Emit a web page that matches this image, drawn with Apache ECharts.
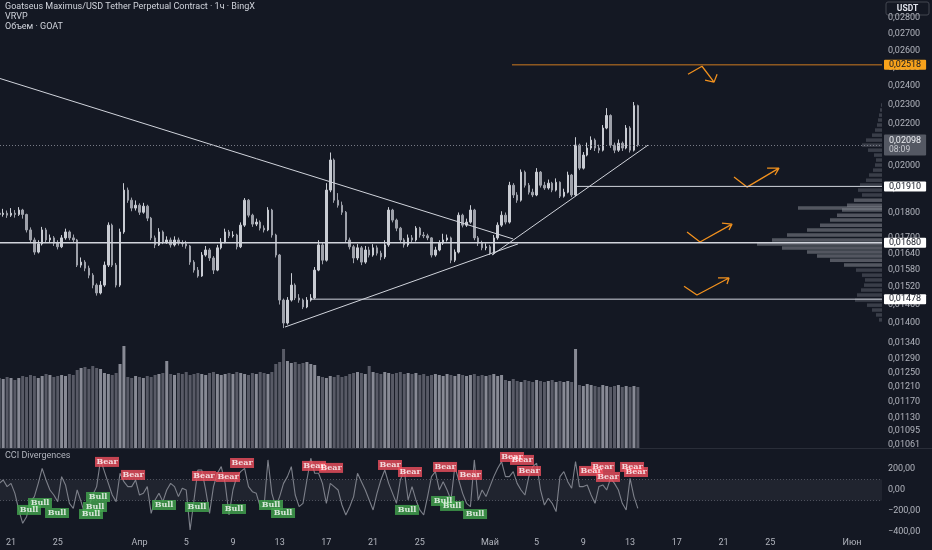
<!DOCTYPE html>
<html><head><meta charset="utf-8">
<script src="https://cdn.jsdelivr.net/npm/echarts@6/dist/echarts.min.js"></script>
<style>html,body{margin:0;padding:0;background:#141823;}#c{width:932px;height:550px;}</style>
</head><body><div id="c"></div>
<script>
// ---------- DATA ----------
const seriesStart = '2025-03-20T00:00Z';   // first candle, 8-hour candles
const stepHours = 8;
const opens = [
0.01797,0.01792,0.01797,0.01789,0.01797,0.01792,0.01810,0.01792,0.01730,0.01691,
0.01645,0.01676,0.01730,0.01691,0.01699,0.01679,0.01665,0.01699,0.01722,0.01699,
0.01691,0.01597,0.01608,0.01586,0.01561,0.01526,0.01499,0.01526,0.01597,0.01749,
0.01597,0.01526,0.01722,0.01894,0.01851,0.01818,0.01830,0.01801,0.01826,0.01777,
0.01699,0.01672,0.01722,0.01683,0.01691,0.01672,0.01691,0.01679,0.01676,0.01668,
0.01608,0.01579,0.01558,0.01634,0.01653,0.01623,0.01579,0.01661,0.01683,0.01722,
0.01707,0.01710,0.01665,0.01749,0.01851,0.01789,0.01753,0.01761,0.01737,0.01730,
0.01810,0.01710,0.01634,0.01475,0.01400,0.01475,0.01526,0.01482,0.01475,0.01452,
0.01475,0.01482,0.01579,0.01672,0.01615,0.01894,0.02028,0.01851,0.01830,0.01801,
0.01691,0.01665,0.01623,0.01661,0.01608,0.01653,0.01634,0.01661,0.01641,0.01627,
0.01672,0.01810,0.01769,0.01737,0.01691,0.01672,0.01699,0.01691,0.01737,0.01710,
0.01707,0.01699,0.01634,0.01653,0.01679,0.01691,0.01699,0.01615,0.01645,0.01789,
0.01749,0.01761,0.01810,0.01699,0.01679,0.01661,0.01665,0.01641,0.01699,0.01749,
0.01789,0.01761,0.01915,0.01873,0.01851,0.01973,0.01915,0.01885,0.01873,0.01973,
0.01915,0.01903,0.01924,0.01894,0.01928,0.01868,0.01885,0.01960,0.01873,0.02098,
0.01991,0.02051,0.02084,0.02122,0.02084,0.02074,0.02181,0.02244,0.02098,0.02074,
0.02107,0.02084,0.02181,0.02074,0.02295
];
const closes = [
0.01792,0.01797,0.01789,0.01797,0.01792,0.01810,0.01792,0.01730,0.01691,0.01645,
0.01676,0.01730,0.01691,0.01699,0.01679,0.01665,0.01699,0.01722,0.01699,0.01691,
0.01597,0.01608,0.01586,0.01561,0.01526,0.01499,0.01526,0.01597,0.01749,0.01597,
0.01526,0.01722,0.01894,0.01851,0.01818,0.01830,0.01801,0.01826,0.01777,0.01699,
0.01672,0.01722,0.01683,0.01691,0.01672,0.01691,0.01679,0.01676,0.01668,0.01608,
0.01579,0.01558,0.01634,0.01653,0.01623,0.01579,0.01661,0.01683,0.01722,0.01707,
0.01710,0.01665,0.01749,0.01851,0.01789,0.01753,0.01761,0.01737,0.01730,0.01810,
0.01710,0.01634,0.01475,0.01400,0.01475,0.01526,0.01482,0.01475,0.01452,0.01475,
0.01482,0.01579,0.01672,0.01615,0.01894,0.02028,0.01851,0.01830,0.01801,0.01691,
0.01665,0.01623,0.01661,0.01608,0.01653,0.01634,0.01661,0.01641,0.01627,0.01672,
0.01810,0.01769,0.01737,0.01691,0.01672,0.01699,0.01691,0.01737,0.01710,0.01707,
0.01699,0.01634,0.01653,0.01679,0.01691,0.01699,0.01615,0.01645,0.01789,0.01749,
0.01761,0.01810,0.01699,0.01679,0.01661,0.01665,0.01641,0.01699,0.01749,0.01789,
0.01761,0.01915,0.01873,0.01851,0.01973,0.01915,0.01885,0.01873,0.01973,0.01915,
0.01903,0.01924,0.01894,0.01928,0.01868,0.01885,0.01960,0.01873,0.02098,0.01991,
0.02051,0.02084,0.02122,0.02084,0.02074,0.02181,0.02244,0.02098,0.02074,0.02107,
0.02084,0.02181,0.02074,0.02295,0.02098
];
const highs = [
0.01812,0.01815,0.01808,0.01818,0.01810,0.01822,0.01815,0.01795,0.01740,0.01700,
0.01690,0.01742,0.01738,0.01712,0.01706,0.01690,0.01710,0.01735,0.01728,0.01712,
0.01695,0.01625,0.01615,0.01595,0.01568,0.01532,0.01540,0.01610,0.01760,0.01755,
0.01605,0.01735,0.01924,0.01905,0.01862,0.01850,0.01838,0.01840,0.01832,0.01782,
0.01708,0.01737,0.01728,0.01705,0.01700,0.01705,0.01700,0.01690,0.01688,0.01672,
0.01615,0.01590,0.01645,0.01668,0.01660,0.01630,0.01672,0.01698,0.01735,0.01730,
0.01725,0.01715,0.01760,0.01860,0.01856,0.01795,0.01775,0.01768,0.01748,0.01822,
0.01815,0.01715,0.01638,0.01480,0.01485,0.01568,0.01532,0.01495,0.01480,0.01485,
0.01495,0.01590,0.01690,0.01680,0.01924,0.02063,0.02035,0.01881,0.01845,0.01806,
0.01700,0.01672,0.01675,0.01668,0.01668,0.01665,0.01675,0.01670,0.01650,0.01690,
0.01822,0.01815,0.01775,0.01742,0.01698,0.01712,0.01710,0.01745,0.01742,0.01722,
0.01715,0.01702,0.01665,0.01690,0.01715,0.01712,0.01704,0.01655,0.01800,0.01795,
0.01775,0.01830,0.01815,0.01706,0.01688,0.01678,0.01672,0.01710,0.01760,0.01805,
0.01800,0.01930,0.01924,0.01885,0.01985,0.01980,0.01925,0.01900,0.01991,0.01978,
0.01930,0.01940,0.01930,0.01945,0.01932,0.01900,0.01975,0.01965,0.02136,0.02105,
0.02065,0.02110,0.02140,0.02130,0.02100,0.02196,0.02282,0.02250,0.02110,0.02125,
0.02115,0.02196,0.02190,0.02314,0.02300
];
const lows = [
0.01780,0.01783,0.01778,0.01782,0.01779,0.01786,0.01775,0.01720,0.01680,0.01635,
0.01640,0.01670,0.01683,0.01680,0.01668,0.01655,0.01660,0.01692,0.01690,0.01680,
0.01590,0.01588,0.01575,0.01550,0.01515,0.01490,0.01494,0.01520,0.01590,0.01590,
0.01518,0.01520,0.01715,0.01840,0.01805,0.01808,0.01790,0.01795,0.01765,0.01690,
0.01660,0.01668,0.01675,0.01676,0.01662,0.01666,0.01670,0.01665,0.01658,0.01598,
0.01570,0.01552,0.01555,0.01628,0.01612,0.01565,0.01575,0.01655,0.01678,0.01698,
0.01700,0.01655,0.01660,0.01742,0.01780,0.01742,0.01745,0.01728,0.01720,0.01725,
0.01700,0.01625,0.01460,0.01384,0.01395,0.01470,0.01475,0.01466,0.01445,0.01448,
0.01470,0.01478,0.01575,0.01600,0.01610,0.01885,0.01840,0.01820,0.01790,0.01683,
0.01655,0.01604,0.01615,0.01597,0.01602,0.01625,0.01628,0.01632,0.01615,0.01620,
0.01665,0.01760,0.01725,0.01680,0.01662,0.01665,0.01680,0.01685,0.01700,0.01698,
0.01690,0.01625,0.01628,0.01648,0.01672,0.01685,0.01604,0.01608,0.01640,0.01740,
0.01742,0.01755,0.01690,0.01668,0.01652,0.01652,0.01634,0.01636,0.01692,0.01742,
0.01752,0.01755,0.01860,0.01840,0.01845,0.01905,0.01875,0.01864,0.01868,0.01905,
0.01895,0.01896,0.01885,0.01888,0.01860,0.01862,0.01880,0.01864,0.01868,0.01982,
0.01985,0.02045,0.02075,0.02070,0.02060,0.02068,0.02175,0.02085,0.02060,0.02066,
0.02070,0.02078,0.02063,0.02068,0.02090
];
const volumes = [
70,69,71,70,68,70,
72,71,73,72,70,72,74,73,71,72,73,72,74,73,
78,80,81,79,82,80,79,
75,74,73,75,
84,102,
71,70,72,71,70,72,71,
73,74,75,87,74,73,75,74,76,73,74,75,74,73,75,76,74,73,74,75,74,76,75,74,73,75,74,76,75,74,76,
84,86,99,87,85,86,84,85,86,84,83,
72,71,70,72,71,73,71,72,
74,75,76,75,74,82,76,75,74,76,75,74,75,76,74,75,74,75,
73,74,72,73,74,73,72,74,73,72,74,73,72,73,74,72,73,72,73,74,72,73,
68,67,69,67,66,68,67,66,68,67,66,67,68,66,67,66,67,66,
99,
63,62,64,63,62,61,63,62,61,62,63,61,62,61,62,61
];
const cci = [
63,95,32,63,-32,-190,-317,-254,-111,-63,
63,206,95,0,-48,-111,127,48,-127,-175,
0,-111,-238,-159,-48,32,286,175,63,-48,
-111,159,79,32,32,95,-48,-32,32,-222,
-95,-32,-111,0,63,32,-63,16,0,-381,
-95,190,190,0,-222,32,159,222,63,-238,
0,127,175,206,32,-16,-32,-159,-159,286,
-32,-159,-63,63,127,222,-48,-159,-127,95,
302,159,159,63,-127,63,32,0,-143,-238,
-159,-63,159,79,0,-95,-190,-32,95,190,
63,-32,-127,95,190,-95,32,-95,-190,-238,
-63,127,175,0,79,0,-95,222,95,-32,
-127,-159,286,-95,0,-63,32,127,206,270,
127,127,175,63,0,-48,127,222,254,0,
-143,-79,-127,-206,127,175,79,16,270,32,
32,48,-48,-127,32,48,0,111,63,0,
-127,-190,111,-63,-175
];
// volume profile (price bin, volume)
const vpPrices = [0.02298,0.02272,0.02246,0.02221,0.02196,0.02171,0.02146,0.02122,0.02098,0.02074,
0.02051,0.02028,0.02005,0.01982,0.01960,0.01937,0.01916,0.01894,0.01873,0.01851,
0.01830,0.01818,0.01810,0.01789,0.01769,0.01749,0.01730,0.01710,0.01691,0.01676,
0.01660,0.01645,0.01630,0.01615,0.01597,0.01579,0.01561,0.01544,0.01526,0.01509,
0.01492,0.01475,0.01458,0.01442,0.01426,0.01410];
const vpVolumes = [1,2,3,4,5,7,10,16,20,14,
8,6,7,9,13,16,22,24,20,28,
35,84,40,45,52,62,75,95,110,125,
100,75,65,52,38,26,20,17,18,21,
25,27,15,10,6,3];
// price axis ticks
const priceTicks = [0.028,0.027,0.026,0.025,0.024,0.023,0.022,0.021,0.020,0.019,0.018,0.017,0.0164,0.0158,0.0152,0.0146,0.014,0.0134,0.0129,0.0125,0.0121,0.0117,0.0113,0.01095,0.01061];
const cciTicks = [200,0,-200,-400];
const dateTicks = ['2025-03-21','2025-03-25','2025-04-01','2025-04-05','2025-04-09','2025-04-13','2025-04-17','2025-04-21','2025-04-25','2025-05-01','2025-05-05','2025-05-09','2025-05-13','2025-05-17','2025-05-21','2025-05-25','2025-06-01'];
const monthNames = ['Янв','Фев','Мар','Апр','Май','Июн','Июл','Авг','Сен','Окт','Ноя','Дек'];
// horizontal levels: price, start (days after Mar 21)
const levelPrices = [0.02518, 0.01910, 0.01680, 0.01478];
const levelStartDays = [42.89, 48.29, -1, 25.6];
const currentPrice = 0.02098;
const countdown = '08:09';
// trend lines: [dayOffset, price] pairs
const trendLines = [
  [[-0.94, 0.02441], [42.98, 0.01695]],
  [[23.46, 0.013874], [43.41, 0.01676]],
  [[41.18, 0.01634], [54.54, 0.02098]]
];
// orange arrows: path and arrowhead [dayOffset, price]
const arrows = [
  {path: [[57.96,0.02465],[59.16,0.02510],[60.19,0.02421]], head: [[59.42,0.02432],[60.19,0.02421],[60.45,0.02465]]},
  {path: [[61.90,0.01951],[63.01,0.01907],[65.75,0.01991]], head: [[64.73,0.01991],[65.75,0.01991],[65.41,0.01960]]},
  {path: [[57.88,0.01722],[58.99,0.01683],[61.73,0.01753]], head: [[60.87,0.01757],[61.73,0.01753],[61.47,0.01730]]},
  {path: [[57.62,0.01522],[58.73,0.01492],[61.47,0.01551]], head: [[60.53,0.01551],[61.47,0.01551],[61.30,0.01530]]}
];
// CCI divergence labels: [dayOffset, cciValue]
const bullLabels = [[1.54,-190],[2.48,-124],[3.94,-219],[7.45,-67],[7.19,-162],[6.85,-229],[13.10,-143],[15.92,-162],[19.09,-181],[22.26,-143],[23.29,-219],[33.90,-190],[36.99,-105],[37.76,-152],[39.73,-229]];
const bearLabels = [[8.22,267],[10.45,143],[16.52,133],[18.58,124],[19.78,257],[25.94,229],[27.40,210],[32.45,238],[34.16,171],[37.16,219],[39.30,143],[42.89,314],[43.75,286],[44.35,181],[49.66,181],[50.68,219],[51.11,124],[53.17,219],[53.51,171]];

// ---------- BUILD ----------
const DAY = 86400000;
const T0 = Date.parse('2025-03-21T00:00Z');
const tStart = Date.parse(seriesStart);
const day = d => T0 + d * DAY;
const xMin = day(-0.942), xMax = day(74.57);
const yMinP = 0.010537, yMaxP = 0.02918;
const L = Math.log;
const times = closes.map((c, i) => tStart + i * stepHours * 3600000);
const fmtP = v => v.toFixed(5).replace('.', ',');
const FONT = 'Roboto';
const txt = '#b2b5be';

const candleData = closes.map((c, i) => [times[i], L(opens[i]), L(c), L(lows[i]), L(highs[i])]);
const volData = volumes.map((v, i) => ({
  value: [times[i], v],
  itemStyle: {color: closes[i] >= opens[i] ? 'rgba(165,168,178,0.8)' : 'rgba(105,108,119,0.8)'}
}));
const cciData = cci.map((v, i) => [times[i], v]);

const lvlColors = [
  {line: 'rgba(240,140,30,0.85)', bg: '#f7a21b', fg: '#131722', w: 1},
  {line: '#d1d4dc', bg: '#ffffff', fg: '#131722', w: 1},
  {line: '#d1d4dc', bg: '#ffffff', fg: '#131722', w: 1.5},
  {line: '#d1d4dc', bg: '#ffffff', fg: '#131722', w: 1}
];

const series = [];
// volume bars
series.push({type: 'bar', xAxisIndex: 1, yAxisIndex: 1, data: volData, barWidth: 3, z: 1, silent: true});
// volume profile
series.push({type: 'custom', xAxisIndex: 2, yAxisIndex: 2, silent: true, z: 1,
  data: vpPrices.map((p, i) => [vpVolumes[i], L(p), p]),
  renderItem: (params, api) => {
    const a = api.coord([0, api.value(1)]);
    const b = api.coord([api.value(0), api.value(1)]);
    const p = api.value(2);
    const inVA = p >= 0.0159 && p <= 0.0186;
    return {type: 'rect', shape: {x: b[0], y: a[1] - 1.75, width: a[0] - b[0], height: 3.5},
      style: {fill: inVA ? 'rgba(135,138,148,0.55)' : 'rgba(105,108,119,0.45)'}};
  }});
// price candles
series.push({type: 'candlestick', xAxisIndex: 0, yAxisIndex: 0, data: candleData, barWidth: 2, z: 3, silent: true,
  itemStyle: {color: '#c9ccd3', color0: '#9ea1aa', borderColor: '#c9ccd3', borderColor0: '#9ea1aa', borderWidth: 1}});
// horizontal levels: drawn as line series; the axis price tag comes from a transparent markLine
levelPrices.forEach((p, i) => {
  const tagStart = Math.max(day(levelStartDays[i]), xMin);
  series.push({type: 'line', xAxisIndex: 0, yAxisIndex: 0, symbol: 'none', silent: true, z: 8,
    data: [[day(levelStartDays[i]), L(p)], [xMax, L(p)]],
    lineStyle: {color: lvlColors[i].line, width: lvlColors[i].w},
    markLine: {symbol: ['none', 'none'], silent: true, animation: false,
      lineStyle: {color: 'rgba(0,0,0,0)', width: 0},
      label: {show: true, position: 'end', distance: 2, formatter: fmtP(p), backgroundColor: lvlColors[i].bg,
        color: lvlColors[i].fg, padding: [1, 5, 0, 5], fontSize: 9, fontFamily: FONT, borderRadius: 1},
      data: [[{coord: [tagStart, L(p)]}, {coord: [xMax, L(p)]}]]}});
});
// current price line
series.push({type: 'line', xAxisIndex: 0, yAxisIndex: 0, data: [], silent: true, z: 9,
  markLine: {symbol: ['none', 'none'], silent: true, animation: false,
    lineStyle: {color: '#787b86', width: 1, type: [1, 2]},
    label: {show: true, position: 'end', distance: 2, formatter: '{a|' + fmtP(currentPrice) + '}\n{b|' + countdown + '}',
      backgroundColor: '#545863', padding: [2, 5, 1, 5], borderRadius: 1,
      rich: {a: {color: '#eceef2', fontSize: 9, fontFamily: FONT, lineHeight: 9}, b: {color: '#c8cad0', fontSize: 8.5, fontFamily: FONT, lineHeight: 9}}},
    data: [[{coord: [xMin, L(currentPrice)]}, {coord: [xMax, L(currentPrice)]}]]}});
// trend lines
trendLines.forEach(tl => series.push({type: 'line', xAxisIndex: 0, yAxisIndex: 0, symbol: 'none', silent: true, z: 4,
  data: tl.map(pt => [day(pt[0]), L(pt[1])]), lineStyle: {color: '#d1d4dc', width: 1}}));
// arrows
arrows.forEach(a => series.push({type: 'line', xAxisIndex: 0, yAxisIndex: 0, symbol: 'none', silent: true, z: 4,
  data: a.path.map(pt => [day(pt[0]), L(pt[1])]).concat([null]).concat(a.head.map(pt => [day(pt[0]), L(pt[1])])),
  connectNulls: false, lineStyle: {color: '#f0901e', width: 1.3}}));
// CCI
series.push({type: 'line', xAxisIndex: 3, yAxisIndex: 3, data: cciData, symbol: 'none', silent: true, z: 3,
  lineStyle: {color: '#7d808a', width: 1.1},
  markArea: {silent: true, itemStyle: {color: 'rgba(255,255,255,0.055)'}, data: [[{yAxis: 100}, {yAxis: -100}]]},
  markLine: {symbol: ['none', 'none'], silent: true, label: {show: false},
    lineStyle: {color: 'rgba(140,143,153,0.45)', type: [1, 2], width: 1}, data: [{yAxis: 100}, {yAxis: -100}]}});
const labelSeries = (arr, name, col) => ({type: 'scatter', xAxisIndex: 3, yAxisIndex: 3, silent: true, z: 6,
  symbol: 'rect', symbolSize: [24, 10], itemStyle: {color: col},
  data: arr.map(p => [day(p[0]), p[1]]),
  label: {show: true, position: 'inside', formatter: name, color: '#ffffff', fontSize: 8, fontWeight: 'bold', fontFamily: 'DejaVu Serif'}});
series.push(labelSeries(bullLabels, 'Bull', '#43a84f'));
series.push(labelSeries(bearLabels, 'Bear', '#f0505e'));

const hidden = {show: false};
const option = {
  backgroundColor: '#141823',
  animation: false,
  grid: [
    {left: 0, right: 50, top: 0, height: 448},
    {left: 0, right: 50, top: 340, height: 108},
    {left: 0, right: 50, top: 0, height: 448},
    {left: 0, right: 50, top: 449, height: 83}
  ],
  xAxis: [
    {gridIndex: 0, type: 'value', min: xMin, max: xMax, show: false},
    {gridIndex: 1, type: 'value', min: xMin, max: xMax, show: false},
    {gridIndex: 2, type: 'value', min: 0, max: 882, inverse: true, show: false},
    {gridIndex: 3, type: 'value', min: xMin, max: xMax,
      axisLine: hidden, axisTick: hidden, splitLine: hidden,
      axisLabel: {customValues: dateTicks.map(s => Date.parse(s + 'T00:00Z')), color: txt, fontSize: 9, fontFamily: FONT, margin: 6,
        formatter: v => { const d = new Date(v); return d.getUTCDate() === 1 ? monthNames[d.getUTCMonth()] : String(d.getUTCDate()); }}}
  ],
  yAxis: [
    {gridIndex: 0, type: 'value', position: 'right', min: L(yMinP), max: L(yMaxP),
      axisLine: hidden, axisTick: hidden, splitLine: hidden,
      axisLabel: {customValues: priceTicks.map(L), color: txt, fontSize: 9, fontFamily: FONT, margin: 6,
        formatter: v => fmtP(Math.exp(v))}},
    {gridIndex: 1, type: 'value', min: 0, max: 108, show: false},
    {gridIndex: 2, type: 'value', min: L(yMinP), max: L(yMaxP), show: false},
    {gridIndex: 3, type: 'value', position: 'right', min: -400, max: 390,
      axisLine: hidden, axisTick: hidden, splitLine: hidden,
      axisLabel: {customValues: cciTicks, color: txt, fontSize: 9, fontFamily: FONT, margin: 6,
        formatter: v => (v < 0 ? '−' : '') + Math.abs(v).toFixed(2).replace('.', ',')}}
  ],
  graphic: [
    {type: 'line', shape: {x1: 0, y1: 448.5, x2: 932, y2: 448.5}, style: {stroke: '#2a2e39', lineWidth: 1}, silent: true},
    {type: 'text', left: 5, top: 2, style: {text: 'Goatseus Maximus/USD Tether Perpetual Contract · 1ч · BingX', fill: '#d1d4dc', fontSize: 9, fontFamily: FONT}},
    {type: 'text', left: 5, top: 12, style: {text: 'VRVP', fill: '#d1d4dc', fontSize: 9, fontFamily: FONT}},
    {type: 'text', left: 5, top: 22, style: {text: 'Объем · GOAT', fill: '#d1d4dc', fontSize: 9, fontFamily: FONT}},
    {type: 'text', left: 5, top: 451, style: {text: 'CCI Divergences', fill: '#b2b5be', fontSize: 9, fontFamily: FONT}},
    {type: 'rect', shape: {x: 886, y: 2, width: 43, height: 13, r: 2}, style: {fill: '#141823', stroke: '#434651', lineWidth: 1}, silent: true},
    {type: 'text', x: 907.5, y: 8.5, style: {text: 'USDT', fill: '#e0e3eb', fontSize: 8.5, fontWeight: 'bold', fontFamily: FONT, align: 'center', verticalAlign: 'middle'}}
  ],
  series: series
};
const chart = echarts.init(document.getElementById('c'));
chart.setOption(option);
</script></body></html>
